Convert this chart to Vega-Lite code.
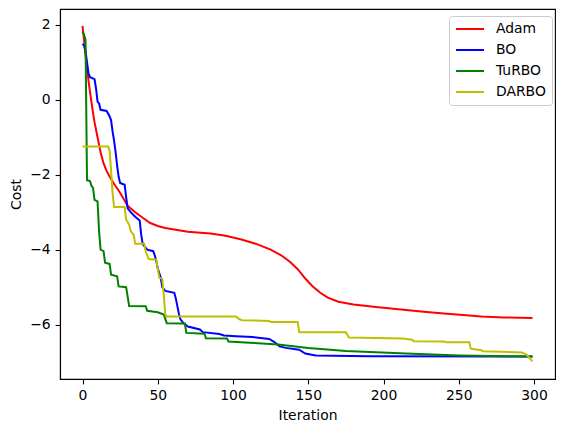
{
  "$schema": "https://vega.github.io/schema/vega-lite/v6.json",
  "width": 495,
  "height": 370,
  "autosize": {"type": "none"},
  "padding": {"left": 60, "top": 9, "right": 10, "bottom": 53},
  "background": "white",
  "config": {
    "font": "DejaVu Sans",
    "view": {"stroke": "black", "strokeWidth": 1.1},
    "axis": {
      "grid": false,
      "domainColor": "black",
      "domainWidth": 1.1,
      "tickColor": "black",
      "tickWidth": 1.1,
      "tickSize": 4.9,
      "labelPadding": 4.9,
      "labelFont": "DejaVu Sans",
      "labelFontSize": 13.9,
      "labelColor": "black",
      "titleFont": "DejaVu Sans",
      "titleFontSize": 13.9,
      "titleFontWeight": "normal",
      "titleColor": "black"
    }
  },
  "data": {
    "values": [
      {"s":"Adam","i":0,"v":1.97},{"s":"Adam","i":1,"v":1.6},{"s":"Adam","i":2,"v":1.2},{"s":"Adam","i":3,"v":0.85},{"s":"Adam","i":4,"v":0.5},{"s":"Adam","i":5,"v":0.2},{"s":"Adam","i":6,"v":-0.08},{"s":"Adam","i":7,"v":-0.35},{"s":"Adam","i":8,"v":-0.6},{"s":"Adam","i":10,"v":-1.0},{"s":"Adam","i":12,"v":-1.4},{"s":"Adam","i":14,"v":-1.7},{"s":"Adam","i":16,"v":-1.9},{"s":"Adam","i":18,"v":-2.05},{"s":"Adam","i":21,"v":-2.25},{"s":"Adam","i":24,"v":-2.42},{"s":"Adam","i":27,"v":-2.62},{"s":"Adam","i":30,"v":-2.83},{"s":"Adam","i":35,"v":-3.0},{"s":"Adam","i":40,"v":-3.15},{"s":"Adam","i":45,"v":-3.29},{"s":"Adam","i":50,"v":-3.37},{"s":"Adam","i":55,"v":-3.42},{"s":"Adam","i":62,"v":-3.47},{"s":"Adam","i":70,"v":-3.52},{"s":"Adam","i":85,"v":-3.57},{"s":"Adam","i":95,"v":-3.63},{"s":"Adam","i":105,"v":-3.72},{"s":"Adam","i":115,"v":-3.84},{"s":"Adam","i":125,"v":-4.0},{"s":"Adam","i":132,"v":-4.15},{"s":"Adam","i":138,"v":-4.33},{"s":"Adam","i":143,"v":-4.52},{"s":"Adam","i":148,"v":-4.77},{"s":"Adam","i":153,"v":-4.98},{"s":"Adam","i":158,"v":-5.15},{"s":"Adam","i":163,"v":-5.28},{"s":"Adam","i":170,"v":-5.39},{"s":"Adam","i":180,"v":-5.46},{"s":"Adam","i":195,"v":-5.53},{"s":"Adam","i":210,"v":-5.59},{"s":"Adam","i":225,"v":-5.65},{"s":"Adam","i":240,"v":-5.7},{"s":"Adam","i":255,"v":-5.75},{"s":"Adam","i":265,"v":-5.78},{"s":"Adam","i":280,"v":-5.81},{"s":"Adam","i":299,"v":-5.82},

      {"s":"BO","i":0,"v":1.49},{"s":"BO","i":1,"v":1.45},{"s":"BO","i":2,"v":1.3},{"s":"BO","i":3,"v":1.0},{"s":"BO","i":4,"v":0.7},{"s":"BO","i":5,"v":0.6},{"s":"BO","i":8,"v":0.55},{"s":"BO","i":9,"v":0.3},{"s":"BO","i":10,"v":-0.05},{"s":"BO","i":11,"v":-0.1},{"s":"BO","i":12,"v":-0.27},{"s":"BO","i":16,"v":-0.3},{"s":"BO","i":18,"v":-0.44},{"s":"BO","i":19,"v":-0.55},{"s":"BO","i":20,"v":-0.85},{"s":"BO","i":21,"v":-1.1},{"s":"BO","i":22,"v":-1.4},{"s":"BO","i":23,"v":-1.75},{"s":"BO","i":24,"v":-2.05},{"s":"BO","i":25,"v":-2.22},{"s":"BO","i":28,"v":-2.27},{"s":"BO","i":29,"v":-2.6},{"s":"BO","i":30,"v":-2.9},{"s":"BO","i":32,"v":-3.0},{"s":"BO","i":35,"v":-3.12},{"s":"BO","i":38,"v":-3.22},{"s":"BO","i":39,"v":-3.6},{"s":"BO","i":40,"v":-3.85},{"s":"BO","i":42,"v":-3.95},{"s":"BO","i":43,"v":-4.0},{"s":"BO","i":47,"v":-4.04},{"s":"BO","i":48,"v":-4.15},{"s":"BO","i":49,"v":-4.3},{"s":"BO","i":50,"v":-4.5},{"s":"BO","i":52,"v":-4.75},{"s":"BO","i":53,"v":-5.0},{"s":"BO","i":55,"v":-5.1},{"s":"BO","i":61,"v":-5.15},{"s":"BO","i":62,"v":-5.3},{"s":"BO","i":63,"v":-5.5},{"s":"BO","i":64,"v":-5.7},{"s":"BO","i":65,"v":-5.85},{"s":"BO","i":67,"v":-5.96},{"s":"BO","i":70,"v":-6.05},{"s":"BO","i":78,"v":-6.13},{"s":"BO","i":80,"v":-6.2},{"s":"BO","i":91,"v":-6.25},{"s":"BO","i":94,"v":-6.29},{"s":"BO","i":102,"v":-6.31},{"s":"BO","i":113,"v":-6.33},{"s":"BO","i":124,"v":-6.38},{"s":"BO","i":127,"v":-6.45},{"s":"BO","i":131,"v":-6.58},{"s":"BO","i":135,"v":-6.62},{"s":"BO","i":144,"v":-6.67},{"s":"BO","i":148,"v":-6.77},{"s":"BO","i":155,"v":-6.82},{"s":"BO","i":190,"v":-6.84},{"s":"BO","i":299,"v":-6.85},

      {"s":"TuRBO","i":0,"v":1.82},{"s":"TuRBO","i":1,"v":1.73},{"s":"TuRBO","i":2,"v":1.6},{"s":"TuRBO","i":3,"v":-2.15},{"s":"TuRBO","i":5,"v":-2.17},{"s":"TuRBO","i":6,"v":-2.3},{"s":"TuRBO","i":7,"v":-2.35},{"s":"TuRBO","i":8,"v":-2.67},{"s":"TuRBO","i":10,"v":-2.71},{"s":"TuRBO","i":11,"v":-3.5},{"s":"TuRBO","i":12,"v":-4.0},{"s":"TuRBO","i":14,"v":-4.04},{"s":"TuRBO","i":15,"v":-4.35},{"s":"TuRBO","i":18,"v":-4.38},{"s":"TuRBO","i":19,"v":-4.67},{"s":"TuRBO","i":23,"v":-4.71},{"s":"TuRBO","i":24,"v":-4.98},{"s":"TuRBO","i":29,"v":-5.0},{"s":"TuRBO","i":31,"v":-5.5},{"s":"TuRBO","i":42,"v":-5.51},{"s":"TuRBO","i":43,"v":-5.63},{"s":"TuRBO","i":50,"v":-5.67},{"s":"TuRBO","i":54,"v":-5.73},{"s":"TuRBO","i":56,"v":-5.96},{"s":"TuRBO","i":68,"v":-5.97},{"s":"TuRBO","i":69,"v":-6.22},{"s":"TuRBO","i":81,"v":-6.24},{"s":"TuRBO","i":82,"v":-6.36},{"s":"TuRBO","i":96,"v":-6.37},{"s":"TuRBO","i":97,"v":-6.45},{"s":"TuRBO","i":111,"v":-6.48},{"s":"TuRBO","i":130,"v":-6.53},{"s":"TuRBO","i":150,"v":-6.62},{"s":"TuRBO","i":175,"v":-6.7},{"s":"TuRBO","i":215,"v":-6.77},{"s":"TuRBO","i":250,"v":-6.82},{"s":"TuRBO","i":299,"v":-6.85},

      {"s":"DARBO","i":0,"v":-1.25},{"s":"DARBO","i":17,"v":-1.25},{"s":"DARBO","i":18,"v":-1.35},{"s":"DARBO","i":19,"v":-1.9},{"s":"DARBO","i":20,"v":-2.5},{"s":"DARBO","i":21,"v":-2.86},{"s":"DARBO","i":28,"v":-2.86},{"s":"DARBO","i":29,"v":-3.2},{"s":"DARBO","i":31,"v":-3.33},{"s":"DARBO","i":32,"v":-3.5},{"s":"DARBO","i":33,"v":-3.56},{"s":"DARBO","i":34,"v":-3.6},{"s":"DARBO","i":35,"v":-3.84},{"s":"DARBO","i":41,"v":-3.84},{"s":"DARBO","i":42,"v":-4.05},{"s":"DARBO","i":44,"v":-4.25},{"s":"DARBO","i":49,"v":-4.27},{"s":"DARBO","i":50,"v":-4.5},{"s":"DARBO","i":51,"v":-4.75},{"s":"DARBO","i":53,"v":-4.78},{"s":"DARBO","i":54,"v":-5.2},{"s":"DARBO","i":55,"v":-5.73},{"s":"DARBO","i":56,"v":-5.78},{"s":"DARBO","i":102,"v":-5.78},{"s":"DARBO","i":104,"v":-5.85},{"s":"DARBO","i":106,"v":-5.88},{"s":"DARBO","i":124,"v":-5.9},{"s":"DARBO","i":125,"v":-5.93},{"s":"DARBO","i":143,"v":-5.93},{"s":"DARBO","i":144,"v":-6.2},{"s":"DARBO","i":175,"v":-6.2},{"s":"DARBO","i":176,"v":-6.27},{"s":"DARBO","i":177,"v":-6.34},{"s":"DARBO","i":204,"v":-6.36},{"s":"DARBO","i":213,"v":-6.37},{"s":"DARBO","i":219,"v":-6.4},{"s":"DARBO","i":220,"v":-6.44},{"s":"DARBO","i":240,"v":-6.45},{"s":"DARBO","i":242,"v":-6.47},{"s":"DARBO","i":257,"v":-6.47},{"s":"DARBO","i":258,"v":-6.64},{"s":"DARBO","i":265,"v":-6.68},{"s":"DARBO","i":266,"v":-6.71},{"s":"DARBO","i":292,"v":-6.74},{"s":"DARBO","i":295,"v":-6.8},{"s":"DARBO","i":299,"v":-6.98}
    ]
  },
  "mark": {"type": "line", "strokeWidth": 2, "interpolate": "linear"},
  "encoding": {
    "x": {
      "field": "i", "type": "quantitative",
      "scale": {"domain": [-14.95, 313.95], "nice": false, "zero": false},
      "axis": {"values": [0, 50, 100, 150, 200, 250, 300], "title": "Iteration", "titlePadding": 6}
    },
    "y": {
      "field": "v", "type": "quantitative",
      "scale": {"domain": [-7.45, 2.42], "nice": false, "zero": false},
      "axis": {"values": [-6, -4, -2, 0, 2], "title": "Cost", "titlePadding": 6, "labelExpr": "replace(datum.label, '-', '−')"}
    },
    "color": {
      "field": "s", "type": "nominal",
      "scale": {"domain": ["Adam", "BO", "TuRBO", "DARBO"], "range": ["#ff0000", "#0000ff", "#008000", "#bfbf00"]},
      "legend": {
        "title": null,
        "orient": "none",
        "legendX": 389,
        "legendY": 7,
        "symbolType": "stroke",
        "symbolSize": 784,
        "symbolStrokeWidth": 2,
        "labelFont": "DejaVu Sans",
        "labelFontSize": 13.9,
        "labelColor": "black",
        "labelOffset": 11,
        "clipHeight": 14,
        "rowPadding": 7,
        "padding": 6,
        "strokeColor": "#cccccc",
        "fillColor": "white",
        "cornerRadius": 3
      }
    },
    "order": {"field": "i", "type": "quantitative"}
  }
}
